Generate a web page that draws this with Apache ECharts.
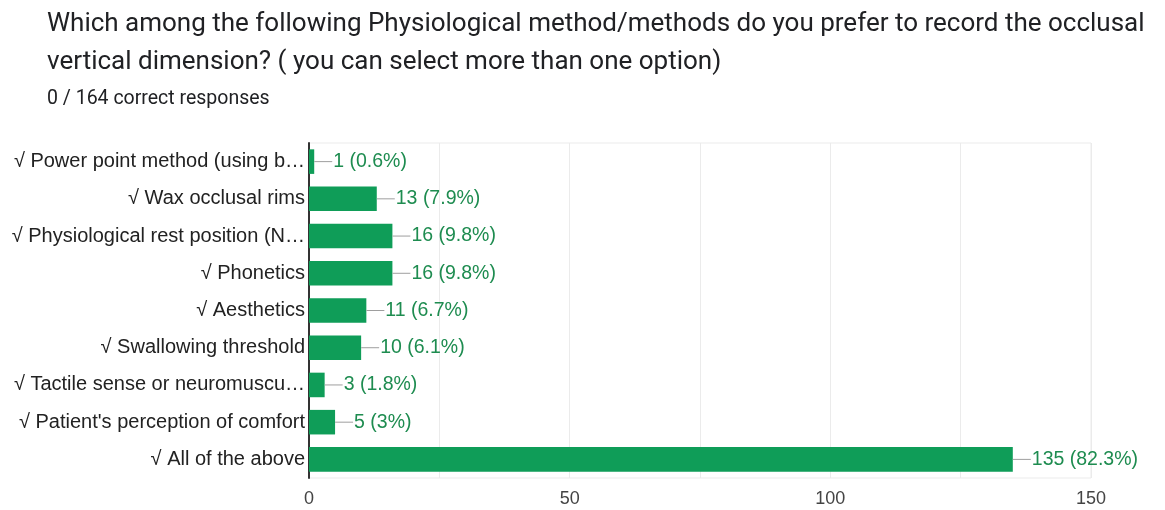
<!DOCTYPE html>
<html>
<head>
<meta charset="utf-8">
<script src="https://cdn.jsdelivr.net/npm/echarts@6/dist/echarts.min.js"></script>
<style>
  html, body { margin: 0; padding: 0; background: #fff; }
  #chart { width: 1165px; height: 510px; }
</style>
</head>
<body>
<div id="chart"></div>
<script>
// Answer options (top to bottom) and how many respondents picked each
const categories = [
  '√ Power point method (using b…',
  '√ Wax occlusal rims',
  '√ Physiological rest position (N…',
  '√ Phonetics',
  '√ Aesthetics',
  '√ Swallowing threshold',
  '√ Tactile sense or neuromuscu…',
  "√ Patient's perception of comfort",
  '√ All of the above'
];
const counts = [1, 13, 16, 16, 11, 10, 3, 5, 135];
const totalResponses = 164;
const xTicks = [0, 50, 100, 150];

const chart = echarts.init(document.getElementById('chart'));

function pct(v) {
  const p = (v / totalResponses * 100).toFixed(1);
  return p.endsWith('.0') ? p.slice(0, -2) : p;
}

chart.setOption({
  animation: false,
  title: [
    {
      text: 'Which among the following Physiological method/methods do you prefer to record the occlusal\nvertical dimension? ( you can select more than one option)',
      left: 42,
      top: 0,
      textStyle: {
        fontFamily: 'Roboto',
        fontSize: 26,
        fontWeight: 'normal',
        color: '#202124',
        lineHeight: 38
      }
    },
    {
      text: '0 / ' + totalResponses + ' correct responses',
      left: 42,
      top: 84,
      textStyle: {
        fontFamily: 'Roboto',
        fontSize: 19.5,
        fontWeight: 'normal',
        color: '#202124'
      }
    }
  ],
  grid: {
    left: 309,
    right: 74,
    top: 143,
    bottom: 32,
    show: true,
    borderColor: '#ebebeb',
    borderWidth: 1
  },
  xAxis: {
    type: 'value',
    min: 0,
    max: 150,
    interval: 25,
    axisLine: { show: false },
    axisTick: { show: false },
    splitLine: { lineStyle: { color: '#ebebeb', width: 1 } },
    axisLabel: {
      margin: 12,
      fontFamily: 'Liberation Sans',
      fontSize: 18,
      color: '#444',
      formatter: v => (xTicks.indexOf(v) >= 0 ? String(v) : '')
    }
  },
  yAxis: {
    type: 'category',
    data: categories,
    inverse: true,
    axisLine: { show: true, lineStyle: { color: '#333', width: 2 } },
    axisTick: { show: false },
    axisLabel: {
      margin: 4,
      fontFamily: 'Liberation Sans',
      fontSize: 20,
      color: '#222'
    }
  },
  series: [{
    type: 'bar',
    data: counts,
    barCategoryGap: '34%',
    itemStyle: { color: '#0f9d58' },
    label: {
      show: true,
      position: 'right',
      distance: 0,
      formatter: p => '{l| }{t|' + p.value + ' (' + pct(p.value) + '%)}',
      rich: {
        l: { width: 18, height: 1, backgroundColor: '#9e9e9e' },
        t: {
          fontFamily: 'Liberation Sans',
          fontSize: 19.5,
          color: '#1e8c50',
          padding: [0, 0, 0, 1]
        }
      }
    }
  }]
});
</script>
</body>
</html>
